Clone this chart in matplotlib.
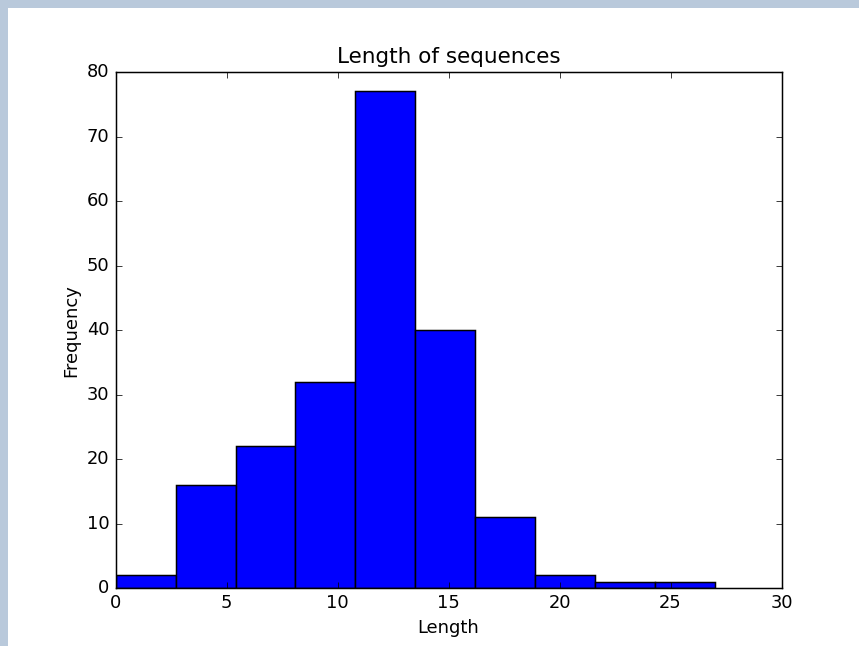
import matplotlib
matplotlib.use('Agg')
import matplotlib.pyplot as plt
from matplotlib.patches import Rectangle

# histogram of sequence lengths (10 bins over 0..27)
bin_edges = [0, 2.7, 5.4, 8.1, 10.8, 13.5, 16.2, 18.9, 21.6, 24.3, 27.0]
counts = [2, 16, 22, 32, 77, 40, 11, 2, 1, 1]
x_ticks = [0, 5, 10, 15, 20, 25, 30]
y_ticks = [0, 10, 20, 30, 40, 50, 60, 70, 80]

plt.style.use('classic')
s = 1.075  # scale of the screenshot

fig = plt.figure(figsize=(8.59, 6.46), dpi=100, facecolor='white')
# screenshot frame on the left and top
fig.patches.append(Rectangle((0, 0), 8 / 859, 1, transform=fig.transFigure,
                             facecolor='#b9c9db', edgecolor='none', zorder=-1))
fig.patches.append(Rectangle((0, 1 - 8 / 646), 1, 8 / 646, transform=fig.transFigure,
                             facecolor='#b9c9db', edgecolor='none', zorder=-1))

ax = fig.add_axes([115.7 / 859, 57.7 / 646, 665.8 / 859, 516.3 / 646])

widths = [bin_edges[i + 1] - bin_edges[i] for i in range(len(counts))]
ax.bar(bin_edges[:-1], counts, width=widths, align='edge',
       color='#0000ff', edgecolor='black', linewidth=1.0 * s)

ax.set_xlim(0, 30)
ax.set_ylim(0, 80)
ax.set_xticks(x_ticks)
ax.set_yticks(y_ticks)
ax.tick_params(labelsize=12 * s, length=4 * s, width=0.5 * s, pad=4 * s,
               direction='in', top=True, right=True)
for sp in ax.spines.values():
    sp.set_linewidth(1.0 * s)

ax.set_title('Length of sequences', fontsize=14.4 * s, pad=6 * s)
ax.set_xlabel('Length', fontsize=12 * s)
ax.set_ylabel('Frequency', fontsize=12 * s)

fig.savefig('out.png', dpi=100, facecolor=fig.get_facecolor())
